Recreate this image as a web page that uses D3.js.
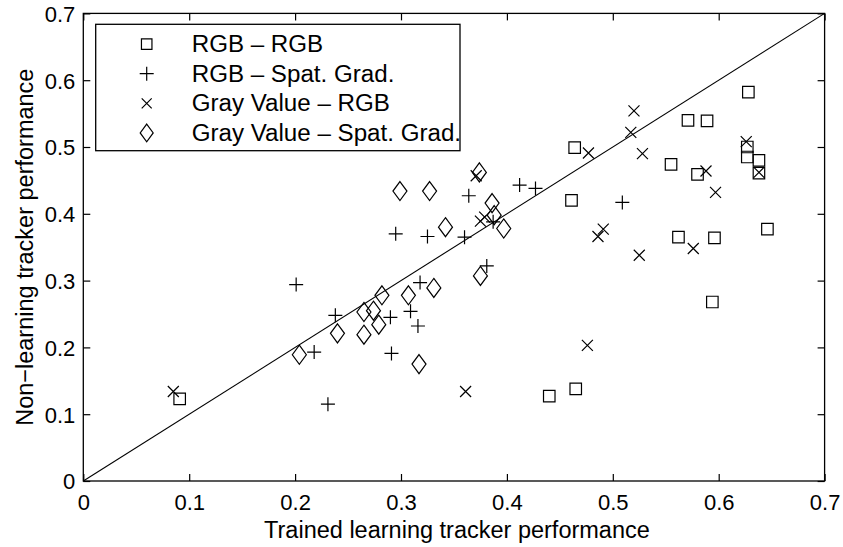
<!DOCTYPE html>
<html>
<head>
<meta charset="utf-8">
<script src="https://cdn.jsdelivr.net/npm/d3@7"></script>
<style>
  html, body { margin: 0; padding: 0; background: #fff; }
  svg text { font-family: "Liberation Sans", Arial, Helvetica, sans-serif; fill: #000; }
</style>
</head>
<body>
<svg id="chart" width="843" height="547"></svg>
<script>
// Trained vs. non-learning tracker performance, one [trained, non-learning] pair per sequence
const rgbRgb = [
  [0.091, 0.123], [0.464, 0.499], [0.461, 0.420], [0.440, 0.127], [0.465, 0.138],
  [0.555, 0.474], [0.571, 0.540], [0.589, 0.539], [0.580, 0.459], [0.628, 0.582],
  [0.627, 0.500], [0.627, 0.485], [0.638, 0.480], [0.638, 0.461], [0.562, 0.365],
  [0.596, 0.364], [0.646, 0.377], [0.594, 0.268]
];
const rgbSpatGrad = [
  [0.201, 0.294], [0.218, 0.193], [0.231, 0.115], [0.238, 0.248], [0.291, 0.191],
  [0.290, 0.245], [0.295, 0.370], [0.309, 0.254], [0.316, 0.232], [0.318, 0.297],
  [0.325, 0.366], [0.360, 0.365], [0.364, 0.427], [0.381, 0.322], [0.387, 0.388],
  [0.412, 0.443], [0.427, 0.438], [0.509, 0.417]
];
const grayRgb = [
  [0.085, 0.134], [0.361, 0.134], [0.476, 0.203], [0.477, 0.491], [0.520, 0.554],
  [0.517, 0.522], [0.528, 0.490], [0.491, 0.377], [0.486, 0.366], [0.525, 0.338],
  [0.588, 0.464], [0.597, 0.432], [0.576, 0.348], [0.626, 0.508], [0.638, 0.462],
  [0.371, 0.457], [0.375, 0.389], [0.379, 0.395]
];
const graySpatGrad = [
  [0.204, 0.189], [0.240, 0.221], [0.265, 0.219], [0.265, 0.253], [0.274, 0.255],
  [0.282, 0.278], [0.279, 0.234], [0.307, 0.278], [0.317, 0.175], [0.331, 0.289],
  [0.299, 0.434], [0.327, 0.434], [0.342, 0.380], [0.374, 0.462], [0.386, 0.416],
  [0.388, 0.398], [0.397, 0.378], [0.375, 0.307]
];

const seriesNames = ["RGB \u2013 RGB", "RGB \u2013 Spat. Grad.", "Gray Value \u2013 RGB", "Gray Value \u2013 Spat. Grad."];
const tickValues = [0, 0.1, 0.2, 0.3, 0.4, 0.5, 0.6, 0.7];
const tickLabels = ["0", "0.1", "0.2", "0.3", "0.4", "0.5", "0.6", "0.7"];
const xTitle = "Trained learning tracker performance";
const yTitle = "Non\u2212learning tracker performance";

// Marker outlines, centred on the origin
const markers = {
  square: s => `M${-s/2},${-s/2}H${s/2}V${s/2}H${-s/2}Z`,
  plus: s => `M${-s/2},0H${s/2}M0,${-s/2}V${s/2}`,
  cross: s => `M${-s/2},${-s/2}L${s/2},${s/2}M${-s/2},${s/2}L${s/2},${-s/2}`,
  diamond: s => `M0,${-s*0.68}L${s/2},0L0,${s*0.68}L${-s/2},0Z`
};
const series = [
  { data: rgbRgb, shape: "square", size: 11.5 },
  { data: rgbSpatGrad, shape: "plus", size: 14 },
  { data: grayRgb, shape: "cross", size: 11 },
  { data: graySpatGrad, shape: "diamond", size: 14 }
];

const margin = { top: 13.4, right: 18.4, bottom: 66, left: 83.3 };
const W = 843, H = 547;
const iw = W - margin.left - margin.right;
const ih = H - margin.top - margin.bottom;

const svg = d3.select("#chart");
const g = svg.append("g").attr("transform", `translate(${margin.left},${margin.top})`);

const x = d3.scaleLinear().domain([0, 0.7]).range([0, iw]);
const y = d3.scaleLinear().domain([0, 0.7]).range([ih, 0]);
const fmt = (d, i) => tickLabels[i];

function styleAxis(sel) {
  sel.select(".domain").remove();
  sel.selectAll(".tick line").attr("stroke", "#000").attr("stroke-width", 1.2);
  sel.selectAll(".tick text").style("font-size", "22px").attr("fill", "#000");
}

g.append("g").attr("transform", `translate(0,${ih})`)
  .call(d3.axisBottom(x).tickValues(tickValues).tickFormat(fmt).tickSizeInner(-7).tickSizeOuter(0).tickPadding(13))
  .call(styleAxis);
g.append("g")
  .call(d3.axisLeft(y).tickValues(tickValues).tickFormat(fmt).tickSizeInner(-7).tickSizeOuter(0).tickPadding(8))
  .call(styleAxis)
  .selectAll(".tick text").attr("dy", "0.36em");
g.append("g")
  .call(d3.axisTop(x).tickValues(tickValues).tickFormat("").tickSizeInner(-7).tickSizeOuter(0))
  .call(styleAxis);
g.append("g").attr("transform", `translate(${iw},0)`)
  .call(d3.axisRight(y).tickValues(tickValues).tickFormat("").tickSizeInner(-7).tickSizeOuter(0))
  .call(styleAxis);

// Plot frame
g.append("rect").attr("width", iw).attr("height", ih)
  .attr("fill", "none").attr("stroke", "#000").attr("stroke-width", 1.3);

// Equal-performance diagonal
g.append("line")
  .attr("x1", x(0)).attr("y1", y(0)).attr("x2", x(0.7)).attr("y2", y(0.7))
  .attr("stroke", "#000").attr("stroke-width", 1.1);

// Points
series.forEach(s => {
  g.append("g").selectAll("path").data(s.data).join("path")
    .attr("transform", d => `translate(${x(d[0])},${y(d[1])})`)
    .attr("d", markers[s.shape](s.size))
    .attr("fill", "none").attr("stroke", "#000").attr("stroke-width", 1.2);
});

// Axis titles
svg.append("text")
  .attr("x", margin.left + iw / 2 + 3).attr("y", 538)
  .attr("text-anchor", "middle").style("font-size", "23.5px").text(xTitle);
svg.append("text")
  .attr("transform", `translate(33,${margin.top + ih / 2}) rotate(-90)`)
  .attr("text-anchor", "middle").style("font-size", "23.5px").text(yTitle);

// Legend
const lg = svg.append("g").attr("transform", "translate(95.7,24.3)");
lg.append("rect").attr("width", 364.3).attr("height", 126.4)
  .attr("fill", "#fff").attr("stroke", "#000").attr("stroke-width", 1.3);
const legendSizes = [10.5, 14, 10, 13];
series.forEach((s, i) => {
  const cy = 19.8 + i * 29.6;
  lg.append("path")
    .attr("transform", `translate(51,${cy})`)
    .attr("d", markers[s.shape](legendSizes[i]))
    .attr("fill", "none").attr("stroke", "#000").attr("stroke-width", 1.2);
  lg.append("text")
    .attr("transform", `translate(96,${cy + 8}) scale(1.05,1)`)
    .style("font-size", "23px").text(seriesNames[i]);
});
</script>
</body>
</html>
